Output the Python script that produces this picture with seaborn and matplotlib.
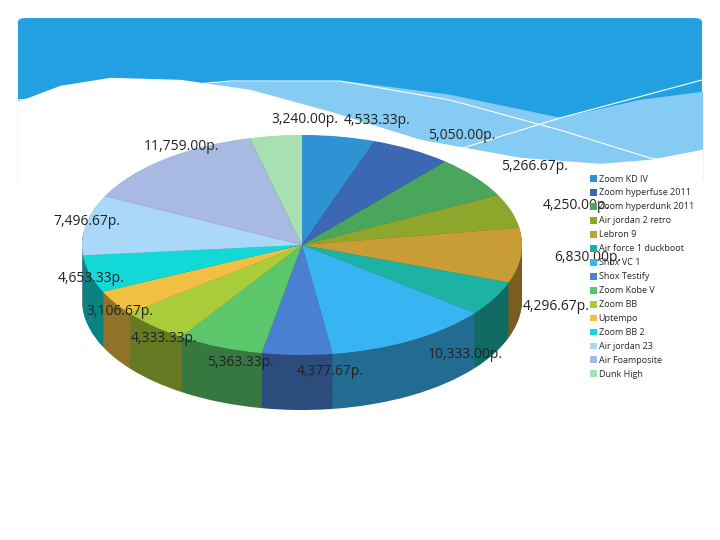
import numpy as np
import matplotlib
matplotlib.use('Agg')
import matplotlib.pyplot as plt
import seaborn as sns
from matplotlib.patches import FancyBboxPatch

sns.set_style('white')
plt.rcParams['font.family'] = ['Open Sans', 'DejaVu Sans']

models = ['Zoom KD IV', 'Zoom hyperfuse 2011', 'Zoom hyperdunk 2011', 'Air jordan 2 retro',
          'Lebron 9', 'Air force 1 duckboot', 'Shox VC 1', 'Shox Testify', 'Zoom Kobe V',
          'Zoom BB', 'Uptempo', 'Zoom BB 2', 'Air jordan 23', 'Air Foamposite', 'Dunk High']
prices = [4533.33, 5050.00, 5266.67, 4250.00, 6830.00, 4296.67, 10333.00, 4377.67,
          5363.33, 4333.33, 3106.67, 4653.33, 7496.67, 11759.00, 3240.00]
colors = ['#2f93d3', '#3b67b3', '#4aa65c', '#8ea62c', '#c99d36', '#1cb3a4', '#38b4f2',
          '#4a7fd2', '#5cc66b', '#a9cc3b', '#f1c042', '#12d8d8', '#a9d8f8', '#a8b9e2', '#a9e0b1']

fig = plt.figure(figsize=(7.2, 5.4), dpi=100)
ax = fig.add_axes([0, 0, 1, 1])


def py(y):
    return (540 - y) * 2


# header band with wave
band = FancyBboxPatch((18, py(180)), 684, py(18) - py(180), boxstyle='round,pad=0,rounding_size=8',
                      fc='#22a0e2', ec='none', zorder=0)
ax.add_patch(band)
xs = np.linspace(18, 702, 300)
light = np.interp(xs, [18, 230, 350, 450, 560, 640, 702], [100, 82, 82, 95, 118, 100, 92])
white = np.interp(xs, [18, 60, 110, 180, 250, 330, 420, 520, 600, 650, 702],
                  [102, 86, 78, 80, 90, 112, 140, 158, 164, 160, 150])
ax.fill_between(xs, py(light), py(181), color='#86cbf4', zorder=0.5)
ax.fill_between(xs, py(white), py(181), color='white', zorder=0.6)
ax.plot(xs, py(np.interp(xs, [18, 230, 340, 450, 560, 650, 702], [100, 81, 81, 100, 130, 158, 165])),
        color='white', lw=0.8, zorder=0.7)
mask = xs > 450
ax.plot(xs[mask], py(np.interp(xs[mask], [450, 560, 702], [152, 118, 80])), color='white', lw=0.8, zorder=0.7)
ax.add_patch(plt.Rectangle((0, 0), 720, py(181), fc='white', ec='none', zorder=0.8))

cx, cy, r, depth = 302, py(245), 220, 110


def darker(c, f=0.6):
    return tuple(np.array(matplotlib.colors.to_rgb(c)) * f)


side = [darker(c) for c in colors]
for k in np.linspace(depth, 1, 60):
    ax.pie(prices, colors=side, startangle=90, counterclock=False, radius=r,
           center=(cx, cy - k), frame=True, wedgeprops={'linewidth': 0})

wedges, texts = ax.pie(prices, colors=colors, startangle=90, counterclock=False, radius=r,
                       center=(cx, cy), frame=True, wedgeprops={'linewidth': 0},
                       labels=[f'{p:,.2f}р.' for p in prices], labeldistance=1.15,
                       textprops={'fontsize': 10, 'color': '#222222'})
for t in texts:
    t.set_zorder(5)
ax.set_aspect('auto')
ax.set_xlim(0, 720)
ax.set_ylim(0, 1080)
ax.axis('off')

fig.legend(wedges, models, loc='upper left', bbox_to_anchor=(585 / 720, 1 - 170 / 540),
           frameon=False, fontsize=6.5, handlelength=0.8, handleheight=0.8,
           handletextpad=0.2, labelspacing=0.55, borderpad=0)

fig.savefig('out.png', dpi=100)
